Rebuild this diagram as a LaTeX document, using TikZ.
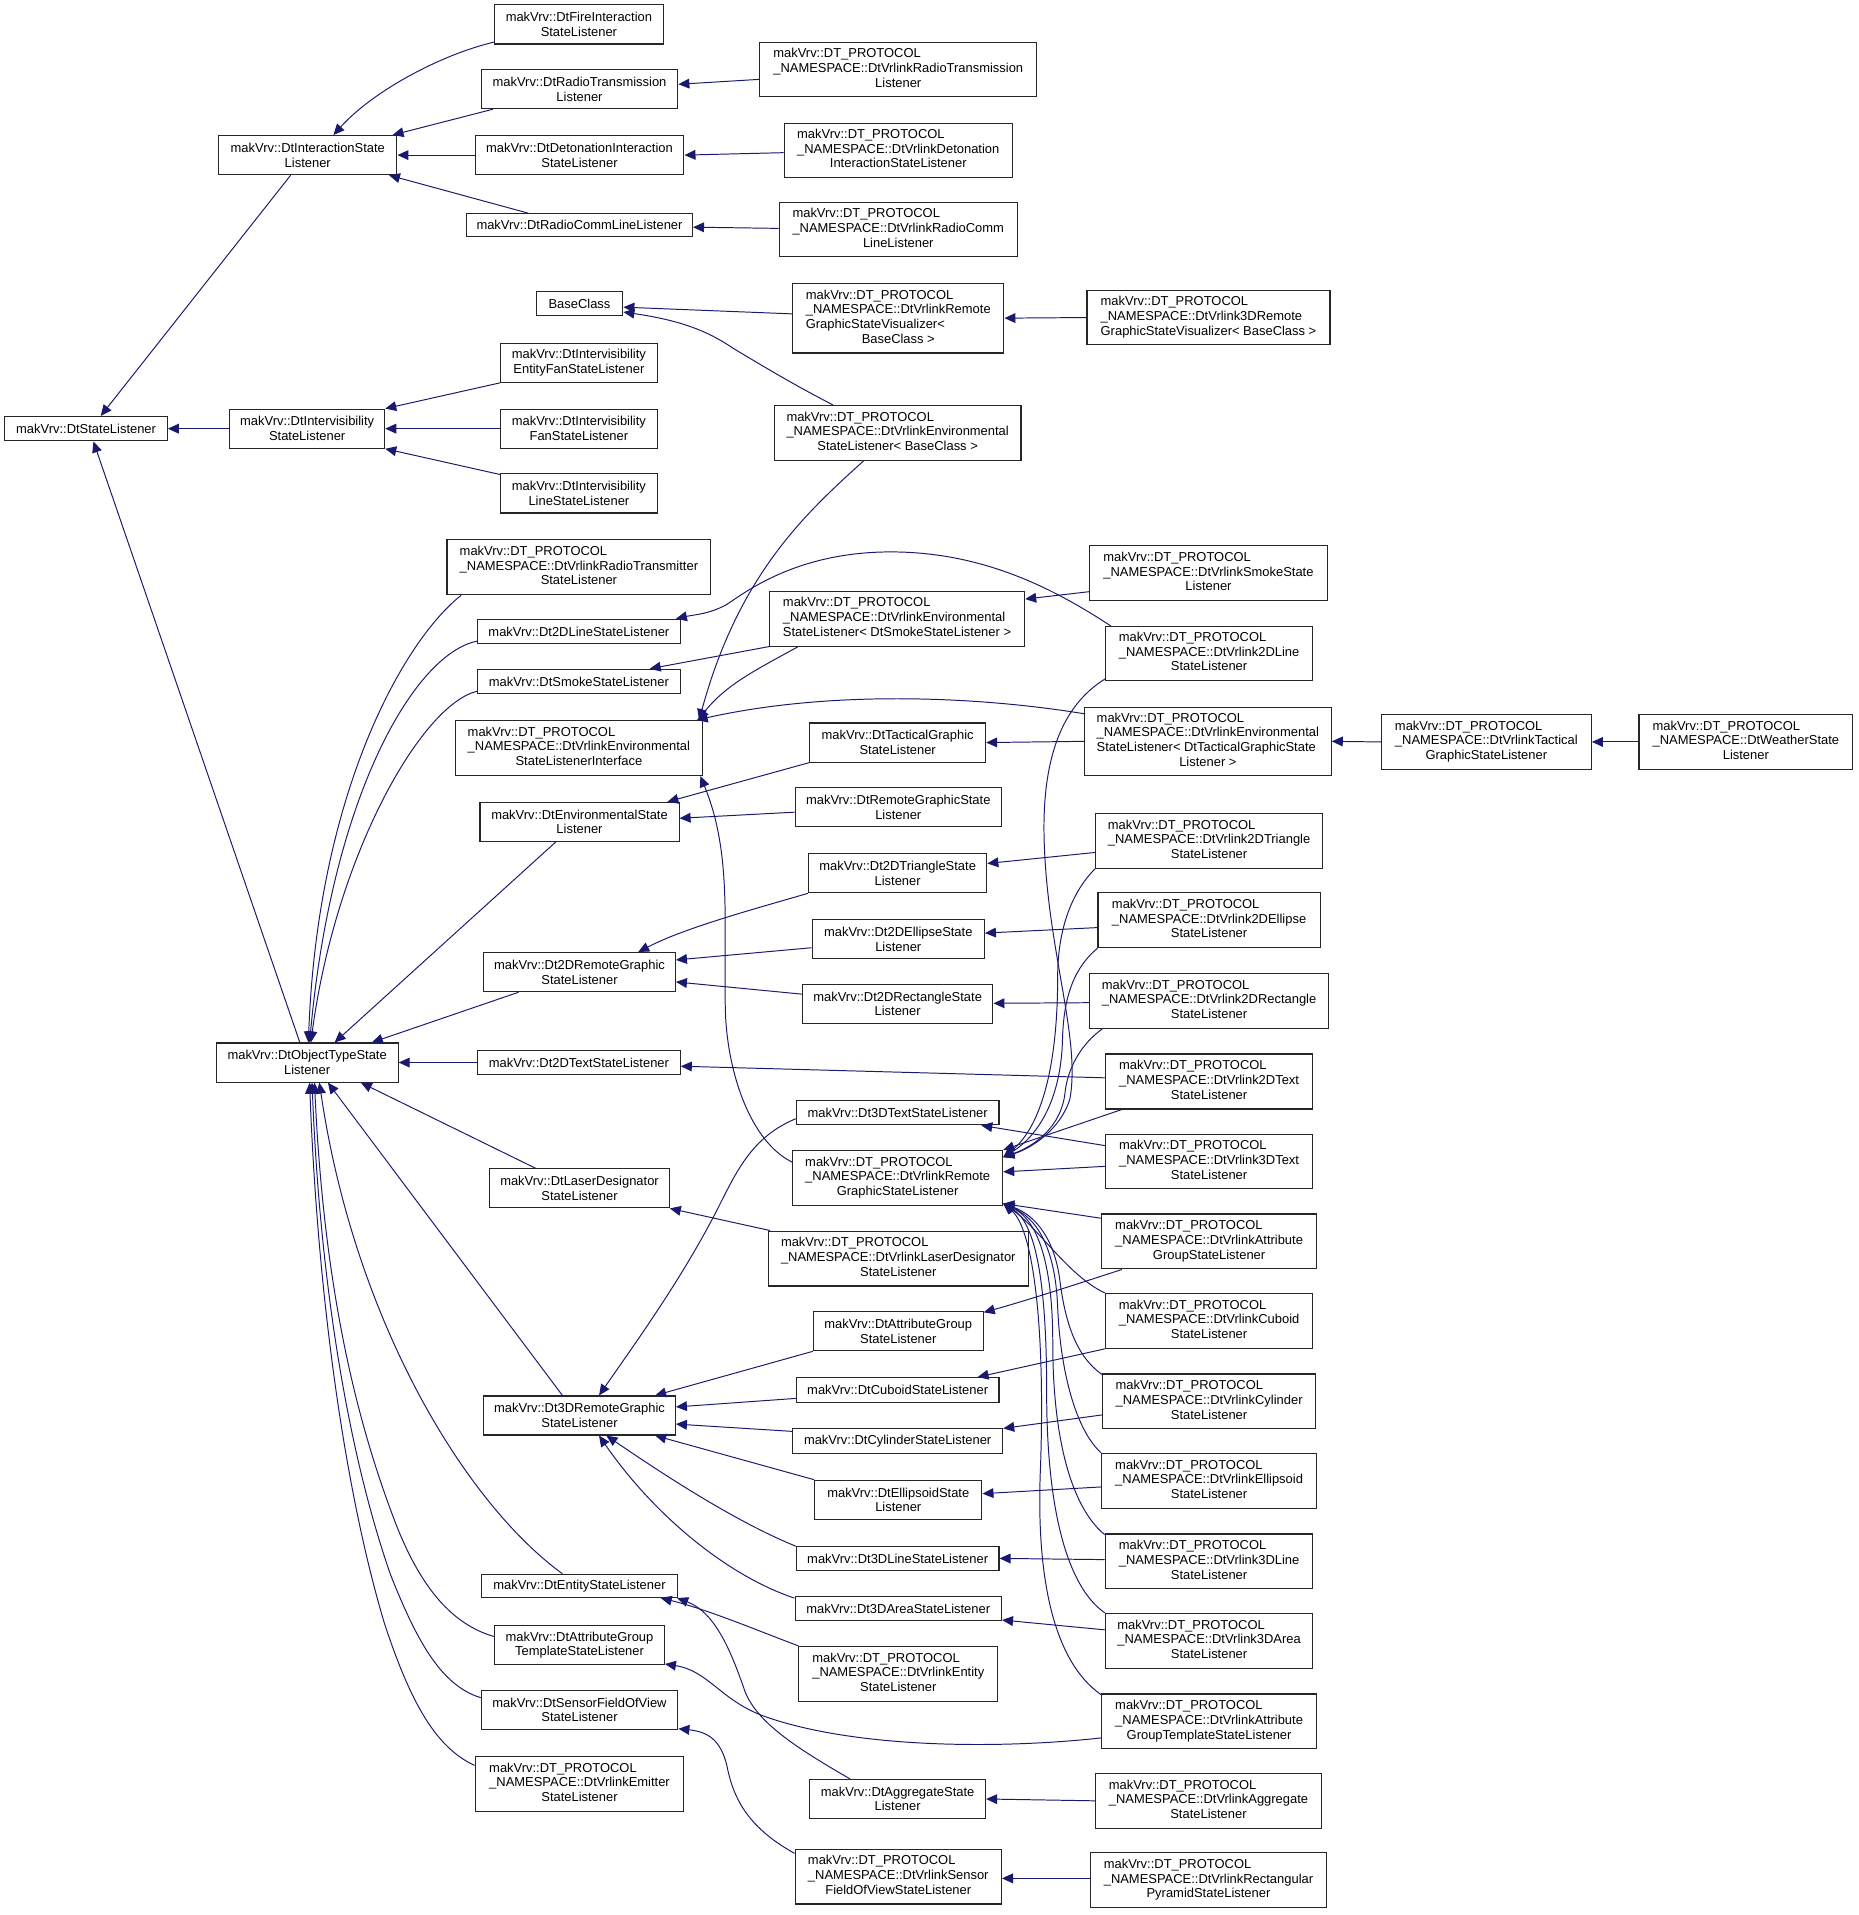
\documentclass[tikz,border=0pt]{standalone}
\usepackage{fontspec}
\setmainfont{Liberation Sans}
\usetikzlibrary{arrows.meta,calc}
\definecolor{navy}{RGB}{25,25,112}
\newcommand{\dox}[2]{\begin{tabular}{@{}l@{}}#1\\\multicolumn{1}{@{}c@{}}{#2}\end{tabular}}
\newcommand{\dpn}[2]{\dox{makVrv::DT\_PROTOCOL\\\_NAMESPACE::#1}{#2}}
\newcommand{\classbox}[6]{\node[cbox, minimum width={#4-#2}, minimum height={#5-#3}] (#1) at ({(#2+#4)/2},{(#3+#5)/2}) {#6};}
\begin{document}
\begin{tikzpicture}[x=1pt, y=-1pt,
  cbox/.style={draw=black!85, line width=0.9pt, fill=white, inner sep=0pt, align=center, font=\fontsize{10.6}{12}\selectfont},
  inh/.style={draw=navy, line width=0.8pt, -{Triangle[length=9pt,width=8pt]}}]
\fill[white] (0,0) rectangle (1522,1568);
\useasboundingbox (0,0) rectangle (1522,1568);

\classbox{fire}{405}{4}{543}{36}{makVrv::DtFireInteraction\\StateListener}
\classbox{radiotx}{394}{57}{555}{89}{makVrv::DtRadioTransmission\\Listener}
\classbox{vradiotx}{622}{35}{849}{79}{\dpn{DtVrlinkRadioTransmission}{Listener}}
\classbox{interaction}{179}{111}{325}{143}{makVrv::DtInteractionState\\Listener}
\classbox{deton}{389}{111}{560}{143}{makVrv::DtDetonationInteraction\\StateListener}
\classbox{vdeton}{642}{101}{829}{145}{\dpn{DtVrlinkDetonation}{InteractionStateListener}}
\classbox{radiocomm}{382}{175}{567}{194}{makVrv::DtRadioCommLineListener}
\classbox{vradiocomm}{638}{166}{833}{210}{\dpn{DtVrlinkRadioComm}{LineListener}}
\classbox{baseclass}{439}{239}{510}{258}{BaseClass}
\classbox{vremvis}{649}{232}{822}{289}{\dox{makVrv::DT\_PROTOCOL\\\_NAMESPACE::DtVrlinkRemote\\GraphicStateVisualizer<}{BaseClass >}}
\classbox{v3dremvis}{890}{238}{1089}{282}{\dpn{DtVrlink3DRemote}{GraphicStateVisualizer< BaseClass >}}
\classbox{ivEntFan}{410}{281}{538}{313}{makVrv::DtIntervisibility\\EntityFanStateListener}
\classbox{state}{4}{341}{137}{361}{makVrv::DtStateListener}
\classbox{ivState}{188}{335}{315}{367}{makVrv::DtIntervisibility\\StateListener}
\classbox{ivFan}{410}{335}{538}{367}{makVrv::DtIntervisibility\\FanStateListener}
\classbox{venvBase}{634}{332}{836}{377}{\dpn{DtVrlinkEnvironmental}{StateListener< BaseClass >}}
\classbox{ivLine}{410}{388}{538}{420}{makVrv::DtIntervisibility\\LineStateListener}
\classbox{vradiotxr}{366}{442}{582}{487}{\dpn{DtVrlinkRadioTransmitter}{StateListener}}
\classbox{vsmoke}{892}{447}{1087}{492}{\dpn{DtVrlinkSmokeState}{Listener}}
\classbox{venvSmoke}{630}{484}{839}{529}{\dpn{DtVrlinkEnvironmental}{StateListener< DtSmokeStateListener >}}
\classbox{line2d}{391}{507}{557}{527}{makVrv::Dt2DLineStateListener}
\classbox{v2dline}{905}{513}{1075}{557}{\dpn{DtVrlink2DLine}{StateListener}}
\classbox{smoke}{391}{548}{557}{568}{makVrv::DtSmokeStateListener}
\classbox{iface}{373}{590}{575}{635}{\dpn{DtVrlinkEnvironmental}{StateListenerInterface}}
\classbox{venvTac}{888}{579}{1090}{635}{\dox{makVrv::DT\_PROTOCOL\\\_NAMESPACE::DtVrlinkEnvironmental\\StateListener< DtTacticalGraphicState}{Listener >}}
\classbox{vtac}{1131}{585}{1303}{630}{\dpn{DtVrlinkTactical}{GraphicStateListener}}
\classbox{weather}{1342}{585}{1517}{630}{\dpn{DtWeatherState}{Listener}}
\classbox{tac}{663}{592}{807}{624}{makVrv::DtTacticalGraphic\\StateListener}
\classbox{remgr}{651}{645}{820}{677}{makVrv::DtRemoteGraphicState\\Listener}
\classbox{env}{393}{657}{556}{689}{makVrv::DtEnvironmentalState\\Listener}
\classbox{v2dtri}{897}{666}{1083}{711}{\dpn{DtVrlink2DTriangle}{StateListener}}
\classbox{tri2d}{662}{699}{808}{731}{makVrv::Dt2DTriangleState\\Listener}
\classbox{v2dell}{899}{731}{1081}{776}{\dpn{DtVrlink2DEllipse}{StateListener}}
\classbox{ell2d}{665}{753}{806}{785}{makVrv::Dt2DEllipseState\\Listener}
\classbox{rem2d}{396}{780}{553}{812}{makVrv::Dt2DRemoteGraphic\\StateListener}
\classbox{rect2d}{657}{806}{813}{838}{makVrv::Dt2DRectangleState\\Listener}
\classbox{v2drect}{892}{797}{1088}{842}{\dpn{DtVrlink2DRectangle}{StateListener}}
\classbox{objtype}{177}{854}{326}{886}{makVrv::DtObjectTypeState\\Listener}
\classbox{text2d}{391}{860}{557}{880}{makVrv::Dt2DTextStateListener}
\classbox{v2dtext}{905}{863}{1075}{908}{\dpn{DtVrlink2DText}{StateListener}}
\classbox{text3d}{652}{901}{818}{921}{makVrv::Dt3DTextStateListener}
\classbox{vremgr}{649}{942}{821}{987}{\dpn{DtVrlinkRemote}{GraphicStateListener}}
\classbox{v3dtext}{905}{929}{1075}{973}{\dpn{DtVrlink3DText}{StateListener}}
\classbox{laser}{401}{957}{548}{989}{makVrv::DtLaserDesignator\\StateListener}
\classbox{vlaser}{629}{1008}{842}{1053}{\dpn{DtVrlinkLaserDesignator}{StateListener}}
\classbox{vattr}{902}{994}{1078}{1039}{\dpn{DtVrlinkAttribute}{GroupStateListener}}
\classbox{attr}{666}{1074}{805}{1106}{makVrv::DtAttributeGroup\\StateListener}
\classbox{vcuboid}{905}{1059}{1075}{1104}{\dpn{DtVrlinkCuboid}{StateListener}}
\classbox{cuboid}{652}{1128}{818}{1148}{makVrv::DtCuboidStateListener}
\classbox{vcyl}{903}{1125}{1077}{1170}{\dpn{DtVrlinkCylinder}{StateListener}}
\classbox{rem3d}{396}{1143}{553}{1175}{makVrv::Dt3DRemoteGraphic\\StateListener}
\classbox{cyl}{649}{1170}{821}{1190}{makVrv::DtCylinderStateListener}
\classbox{ellipsoid}{667}{1212}{804}{1244}{makVrv::DtEllipsoidState\\Listener}
\classbox{vellipsoid}{902}{1190}{1078}{1235}{\dpn{DtVrlinkEllipsoid}{StateListener}}
\classbox{line3d}{652}{1266}{818}{1286}{makVrv::Dt3DLineStateListener}
\classbox{v3dline}{905}{1256}{1075}{1301}{\dpn{DtVrlink3DLine}{StateListener}}
\classbox{entity}{394}{1289}{555}{1308}{makVrv::DtEntityStateListener}
\classbox{area3d}{651}{1307}{820}{1327}{makVrv::Dt3DAreaStateListener}
\classbox{v3darea}{905}{1321}{1075}{1366}{\dpn{DtVrlink3DArea}{StateListener}}
\classbox{attrtpl}{405}{1331}{544}{1363}{makVrv::DtAttributeGroup\\TemplateStateListener}
\classbox{ventity}{654}{1348}{817}{1393}{\dpn{DtVrlinkEntity}{StateListener}}
\classbox{sensor}{394}{1384}{555}{1416}{makVrv::DtSensorFieldOfView\\StateListener}
\classbox{vattrtpl}{902}{1387}{1078}{1432}{\dpn{DtVrlinkAttribute}{GroupTemplateStateListener}}
\classbox{vemitter}{389}{1438}{560}{1483}{\dpn{DtVrlinkEmitter}{StateListener}}
\classbox{aggr}{663}{1457}{807}{1489}{makVrv::DtAggregateState\\Listener}
\classbox{vaggr}{897}{1452}{1082}{1497}{\dpn{DtVrlinkAggregate}{StateListener}}
\classbox{vsensor}{651}{1514}{820}{1559}{\dpn{DtVrlinkSensor}{FieldOfViewStateListener}}
\classbox{vpyr}{893}{1517}{1086}{1562}{\dpn{DtVrlinkRectangular}{PyramidStateListener}}

\coordinate (vrT) at ($(vremgr.east)+(0,-17)$);
\coordinate (vrB) at ($(vremgr.east)+(0,21)$);

% --- top group
\draw[inh] ($(interaction.south)+(-14,0)$) -- ($(state.north)+(12,0)$);
\draw[inh] (ivState.west) -- (state.east);
\draw[inh] ($(objtype.north)+(-6,0)$) -- ($(state.south)+(6,0)$);
\draw[inh] ($(fire.south west)+(0,-2)$) .. controls (360,45) and (305,75) .. ($(interaction.north)+(21,0)$);
\draw[inh] ($(radiotx.south west)+(10,0)$) -- ($(interaction.north east)+(-4,0)$);
\draw[inh] (deton.west) -- (interaction.east);
\draw[inh] ($(radiocomm.north west)+(51,0)$) -- ($(interaction.south east)+(-7,0)$);
\draw[inh] ($(vradiotx.west)+(0,8)$) -- ($(radiotx.east)+(0,-4)$);
\draw[inh] ($(vdeton.west)+(0,2)$) -- (deton.east);
\draw[inh] ($(vradiocomm.west)+(0,-1)$) -- ($(radiocomm.east)+(0,1.5)$);
\draw[inh] ($(vremvis.west)+(0,-3.5)$) -- ($(baseclass.east)+(0,3)$);
\draw[inh] (v3dremvis.west) -- (vremvis.east);
\draw[inh] ($(venvBase.north)+(-53,0)$) .. controls (650,315) and (625,300) .. (600,285) .. controls (578,270) and (555,262) .. ($(baseclass.east)+(0,7)$);
\draw[inh] (ivEntFan.south west) -- (ivState.north east);
\draw[inh] (ivFan.west) -- (ivState.east);
\draw[inh] ($(ivLine.north west)+(0,1)$) -- (ivState.south east);

% --- environmental interface
\draw[inh] ($(venvBase.south)+(-28,0)$) .. controls (660,420) and (605,470) .. ($(iface.north east)+(-3,0)$);
\draw[inh] ($(venvSmoke.south west)+(24,0)$) .. controls (620,548) and (595,560) .. ($(iface.north east)+(-4,0)$);
\draw[inh] (venvSmoke.south west) -- ($(smoke.north)+(58,0)$);
\draw[inh] ($(vsmoke.west)+(0,15)$) -- ($(venvSmoke.east)+(0,-16)$);
\draw[inh] ($(venvTac.north west)+(1,6)$) .. controls (800,570) and (680,565) .. ($(iface.north east)+(-5,0)$);
\draw[inh] (venvTac.west) -- (tac.east);
\draw[inh] (vtac.west) -- (venvTac.east);
\draw[inh] (weather.west) -- (vtac.east);
\draw[inh] ($(vremgr.west)+(0,-13)$) .. controls (615,935) and (596,880) .. (594,830) .. controls (592,760) and (600,700) .. ($(iface.south east)+(-2,0)$);

% --- 2D line
\draw[inh] ($(v2dline.north west)+(5,0)$) .. controls (860,480) and (800,450) .. (722,452) .. controls (650,454) and (610,485) .. (595,495) .. controls (580,503) and (570,503) .. ($(line2d.north east)+(-4,0)$);

% --- into DtVrlinkRemoteGraphicStateListener from above
\draw[inh] ($(v2dline.south west)+(1,-2)$) .. controls (865,580) and (853,630) .. (855,690) .. controls (858,780) and (885,850) .. (876,900) .. controls (868,925) and (845,940) .. (vrT);
\draw[inh] (v2dtri.south west) .. controls (878,730) and (866,760) .. (866,800) .. controls (866,880) and (850,925) .. (vrT);
\draw[inh] (v2dell.south west) .. controls (880,792) and (871,815) .. (870,850) .. controls (869,900) and (850,930) .. (vrT);
\draw[inh] ($(v2drect.south west)+(11,0)$) .. controls (885,855) and (874,875) .. (872,895) .. controls (869,922) and (848,938) .. (vrT);
\draw[inh] ($(v2dtext.south west)+(14,0)$) -- (vremgr.north east);
\draw[inh] ($(v3dtext.west)+(0,4)$) -- ($(vremgr.east)+(0,-5)$);
\draw[inh] ($(vattr.west)+(0,-19)$) -- (vrB);

% --- into DtVrlinkRemoteGraphicStateListener from below
\draw[inh] (vcuboid.north west) .. controls (875,1045) and (850,1005) .. (vrB);
\draw[inh] ($(vcyl.north west)+(0,1)$) .. controls (880,1110) and (872,1080) .. (868,1050) .. controls (864,1015) and (848,995) .. (vrB);
\draw[inh] (vellipsoid.north west) .. controls (880,1170) and (868,1120) .. (866,1070) .. controls (864,1020) and (848,997) .. (vrB);
\draw[inh] ($(v3dline.north west)+(0,1)$) .. controls (878,1235) and (862,1180) .. (862,1100) .. controls (862,1030) and (848,998) .. (vrB);
\draw[inh] (v3darea.north west) .. controls (875,1300) and (857,1240) .. (857,1140) .. controls (857,1040) and (846,1000) .. (vrB);
\draw[inh] ($(vattrtpl.north west)+(0,1)$) .. controls (862,1360) and (848,1290) .. (852,1200) .. controls (856,1080) and (845,1005) .. (vrB);

% --- environmental / 2D
\draw[inh] (tac.south west) -- ($(env.north east)+(-10,0)$);
\draw[inh] ($(remgr.west)+(0,4)$) -- ($(env.east)+(0,-3)$);
\draw[inh] ($(env.south)+(-19.5,0)$) -- ($(objtype.north)+(22.5,0)$);
\draw[inh] (tri2d.south west) .. controls (615,745) and (560,760) .. ($(rem2d.north)+(48,0)$);
\draw[inh] ($(ell2d.west)+(0,7)$) -- ($(rem2d.east)+(0,-10)$);
\draw[inh] ($(rect2d.west)+(0,-8)$) -- ($(rem2d.east)+(0,8)$);
\draw[inh] ($(rem2d.south west)+(29,0)$) -- ($(objtype.north east)+(-22,0)$);
\draw[inh] (text2d.west) -- (objtype.east);
\draw[inh] ($(v2dtri.west)+(0,9.5)$) -- ($(tri2d.east)+(0,-8)$);
\draw[inh] ($(v2dell.west)+(0,6)$) -- ($(ell2d.east)+(0,-5)$);
\draw[inh] ($(v2drect.west)+(0,1.5)$) -- ($(rect2d.east)+(0,-0.5)$);
\draw[inh] ($(v2dtext.west)+(0,-3)$) -- ($(text2d.east)+(0,3)$);
\draw[inh] ($(v3dtext.west)+(0,-13)$) -- ($(text3d.south east)+(-15,0)$);

% --- curves into DtObjectTypeStateListener top
\draw[inh] ($(vradiotxr.south west)+(12,0)$) .. controls (330,525) and (260,650) .. ($(objtype.north)+(1,0)$);
\draw[inh] ($(line2d.west)+(0,8)$) .. controls (340,535) and (272,650) .. ($(objtype.north)+(2,0)$);
\draw[inh] ($(smoke.west)+(0,8)$) .. controls (345,577) and (275,700) .. ($(objtype.north)+(3,0)$);

% --- 3D group
\draw[inh] ($(text3d.west)+(0,5)$) .. controls (618,930) and (605,955) .. (590,985) .. controls (560,1045) and (520,1100) .. ($(rem3d.north)+(16,0)$);
\draw[inh] ($(laser.north)+(-36,0)$) -- ($(objtype.south east)+(-31,0)$);
\draw[inh] ($(vlaser.north west)+(2,0)$) -- (laser.south east);
\draw[inh] ($(vattr.south west)+(17,0)$) .. controls (880,1052) and (840,1065) .. ($(attr.north east)+(0,1)$);
\draw[inh] (attr.south west) -- ($(rem3d.north east)+(-17,0)$);
\draw[inh] (vcuboid.south west) -- ($(cuboid.north east)+(-18,0)$);
\draw[inh] ($(cuboid.west)+(0,7)$) -- ($(rem3d.east)+(0,-7)$);
\draw[inh] ($(vcyl.west)+(0,11)$) -- (cyl.north east);
\draw[inh] ($(cyl.west)+(0,-8)$) -- ($(rem3d.east)+(0,7)$);
\draw[inh] (ellipsoid.north west) -- ($(rem3d.south east)+(-17,0)$);
\draw[inh] ($(vellipsoid.west)+(0,5)$) -- ($(ellipsoid.east)+(0,-5)$);
\draw[inh] ($(line3d.west)+(0,-10)$) .. controls (600,1245) and (540,1205) .. ($(rem3d.south)+(22,0)$);
\draw[inh] ($(v3dline.west)+(0,-1.5)$) -- (line3d.east);
\draw[inh] ($(area3d.north west)+(0,2)$) .. controls (595,1290) and (535,1240) .. ($(rem3d.south)+(16,0)$);
\draw[inh] ($(v3darea.west)+(0,-9)$) -- ($(area3d.south east)+(0,-1)$);
\draw[inh] ($(rem3d.north)+(-14,0)$) -- ($(objtype.south)+(17,0)$);

% --- lower left group
\draw[inh] ($(entity.north)+(-14,0)$) .. controls (380,1230) and (290,1080) .. ($(objtype.south)+(10,0)$);
\draw[inh] ($(attrtpl.west)+(0,-7)$) .. controls (370,1330) and (345,1300) .. (325,1250) .. controls (290,1160) and (265,1050) .. ($(objtype.south)+(6,0)$);
\draw[inh] ($(sensor.west)+(0,-10)$) .. controls (360,1380) and (340,1340) .. (320,1290) .. controls (285,1190) and (262,1050) .. ($(objtype.south)+(4,0)$);
\draw[inh] ($(vemitter.west)+(0,-15)$) .. controls (355,1430) and (335,1390) .. (315,1330) .. controls (282,1220) and (260,1060) .. ($(objtype.south)+(2,0)$);
\draw[inh] (ventity.north west) .. controls (620,1335) and (580,1318) .. ($(entity.south)+(66.5,0)$);
\draw[inh] ($(aggr.north)+(-39,0)$) .. controls (650,1430) and (620,1410) .. (610,1385) .. controls (598,1350) and (585,1320) .. ($(entity.south east)+(-1,0)$);
\draw[inh] ($(vattrtpl.west)+(0,13.5)$) .. controls (820,1432) and (700,1432) .. (625,1405) .. controls (590,1392) and (580,1368) .. ($(attrtpl.south east)+(0,-1)$);
\draw[inh] (vaggr.west) -- (aggr.east);
\draw[inh] ($(vsensor.west)+(0,-19)$) .. controls (610,1495) and (600,1470) .. (595,1445) .. controls (590,1425) and (580,1418) .. ($(sensor.south east)+(0,-1)$);
\draw[inh] ($(vpyr.west)+(0,-1.5)$) -- ($(vsensor.east)+(0,1.5)$);
\end{tikzpicture}
\end{document}
